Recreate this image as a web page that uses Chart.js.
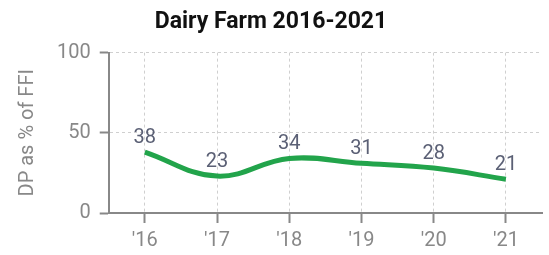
<!DOCTYPE html>
<html lang="en">
<head>
    <meta charset="UTF-8">
    <title>Dairy Farm</title>
    <script src="https://cdn.jsdelivr.net/npm/chart.js"></script>
    <style>
        body { margin: 0; background: #fff; }
        .chart-container { width: 549px; height: 255px; }
    </style>
</head>
<body>
    <div class="chart-container">
        <canvas id="dairyChart" width="549" height="255"></canvas>
    </div>
    <script>
        const years = ["'16", "'17", "'18", "'19", "'20", "'21"];
        const dpShare = [38, 23, 34, 31, 28, 21];
        const yTicks = [0, 50, 100];

        // draws the value above each point
        const valueLabels = {
            id: 'valueLabels',
            afterDatasetsDraw(chart) {
                const ctx = chart.ctx;
                const meta = chart.getDatasetMeta(0);
                ctx.save();
                ctx.font = '20px Roboto';
                ctx.fillStyle = '#5b6075';
                ctx.textAlign = 'center';
                ctx.textBaseline = 'bottom';
                meta.data.forEach((pt, i) => {
                    ctx.fillText(dpShare[i], pt.x, pt.y - 4);
                });
                ctx.restore();
            }
        };

        new Chart(document.getElementById('dairyChart'), {
            type: 'line',
            data: {
                labels: years,
                datasets: [{
                    data: dpShare,
                    borderColor: '#22a44b',
                    borderWidth: 5,
                    tension: 0.4,
                    pointRadius: 0,
                    fill: false
                }]
            },
            options: {
                responsive: false,
                animation: false,
                layout: { padding: { top: 0, right: 7, left: 0, bottom: -4 } },
                plugins: {
                    legend: { display: false },
                    tooltip: { enabled: false },
                    title: {
                        display: true,
                        text: 'Dairy Farm 2016-2021',
                        color: '#111',
                        font: { family: 'Roboto', size: 23, weight: 'bold' },
                        padding: { top: 8, bottom: 17 }
                    }
                },
                scales: {
                    x: {
                        offset: true,
                        grid: {
                            offset: false,
                            color: '#cfcfcf',
                            tickColor: '#888',
                            tickLength: 10,
                            tickWidth: 2
                        },
                        border: { color: '#888', width: 2, dash: [3, 3] },
                        ticks: { color: '#888', font: { family: 'Roboto', size: 20, lineHeight: 1 }, padding: 8 }
                    },
                    y: {
                        min: 0,
                        max: 100,
                        afterBuildTicks(axis) {
                            axis.ticks = yTicks.map(v => ({ value: v }));
                        },
                        grid: {
                            color: '#cfcfcf',
                            tickColor: '#888',
                            tickLength: 9,
                            tickWidth: 2
                        },
                        border: { color: '#888', width: 2, dash: [3, 3] },
                        ticks: { color: '#888', font: { family: 'Roboto', size: 20 }, padding: 9 },
                        title: {
                            display: true,
                            text: 'DP as % of FFI',
                            color: '#888',
                            font: { family: 'Roboto', size: 20 },
                            padding: { top: 16, bottom: 8 }
                        }
                    }
                }
            },
            plugins: [valueLabels]
        });
    </script>
</body>
</html>
